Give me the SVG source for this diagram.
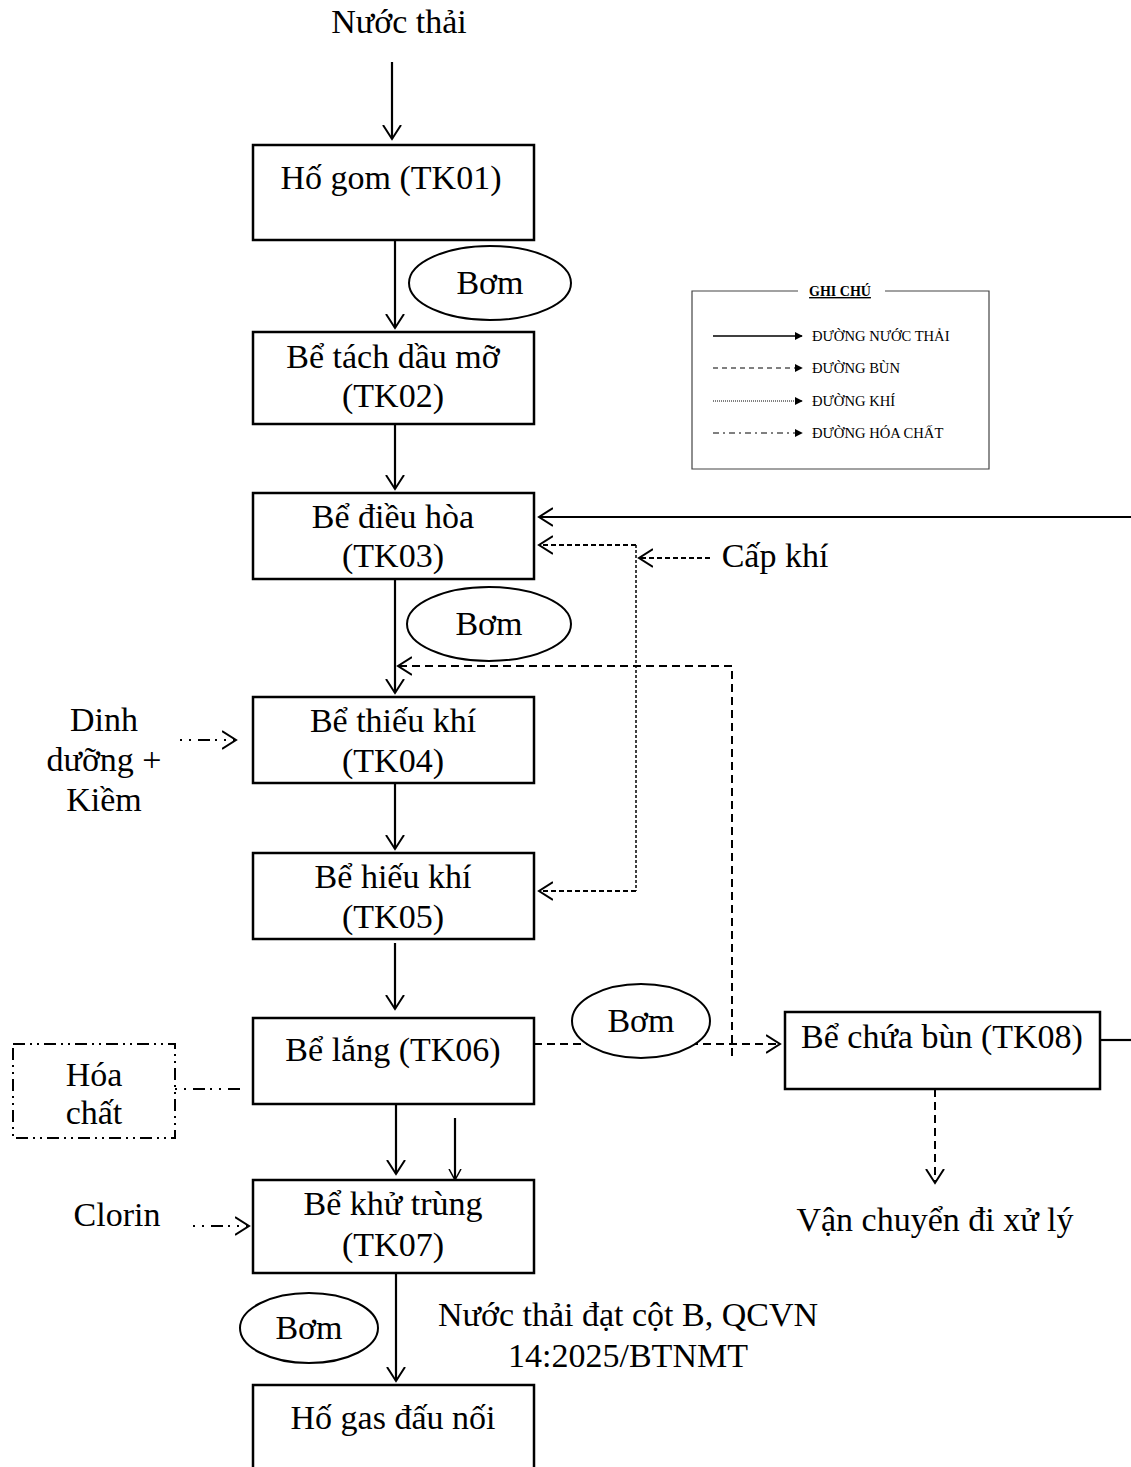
<svg xmlns="http://www.w3.org/2000/svg" width="1131" height="1467" viewBox="0 0 1131 1467">
<style>
text{font-family:"Liberation Serif","Times New Roman",serif;fill:#000}
.t{font-size:34px;text-anchor:middle}
.box{fill:#fff;stroke:#000;stroke-width:2.5}
.ell{fill:#fff;stroke:#000;stroke-width:2}
.w{fill:none;stroke:#000;stroke-width:2.2}
.sl{fill:none;stroke:#000;stroke-width:2;stroke-dasharray:8 5}
.air{fill:none;stroke:#000;stroke-width:2;stroke-dasharray:5 3}
.airv{fill:none;stroke:#000;stroke-width:1.5;stroke-dasharray:3 2}
.ch{fill:none;stroke:#000;stroke-width:2;stroke-dasharray:2 7 2 7 12 5}
.lg{font-size:14.6px}
</style>
<defs>
<marker id="oa" viewBox="0 0 16 20" refX="14" refY="10" markerWidth="16" markerHeight="20" markerUnits="userSpaceOnUse" orient="auto">
<path d="M0,1 L14,10 L0,19" fill="none" stroke="#000" stroke-width="2"/>
</marker>
<marker id="sa" viewBox="0 0 12 14" refX="11" refY="7" markerWidth="12" markerHeight="14" markerUnits="userSpaceOnUse" orient="auto">
<path d="M0,1 L11,7 L0,13" fill="none" stroke="#000" stroke-width="1.5"/>
</marker>
<marker id="fa" viewBox="0 0 10 10" refX="9" refY="5" markerWidth="8" markerHeight="8" markerUnits="userSpaceOnUse" orient="auto">
<path d="M0,0 L10,5 L0,10 Z" fill="#000"/>
</marker>
</defs>

<g id="connectors">
<line class="w" x1="392" y1="62" x2="392" y2="139" marker-end="url(#oa)"/>
<line class="w" x1="395" y1="240" x2="395" y2="328" marker-end="url(#oa)"/>
<line class="w" x1="395" y1="424" x2="395" y2="489" marker-end="url(#oa)"/>
<line class="w" x1="395" y1="579" x2="395" y2="693" marker-end="url(#oa)"/>
<line class="w" x1="395" y1="783" x2="395" y2="849" marker-end="url(#oa)"/>
<line class="w" x1="395" y1="943" x2="395" y2="1009" marker-end="url(#oa)"/>
<line class="w" x1="396" y1="1104" x2="396" y2="1174" marker-end="url(#oa)"/>
<line class="w" x1="455" y1="1118" x2="455" y2="1180" stroke-width="1.5" marker-end="url(#sa)"/>
<line class="w" x1="396" y1="1273" x2="396" y2="1381" marker-end="url(#oa)"/>
<polyline class="w" points="1100,1040 1131,1040" stroke-width="1.2"/>
<line class="w" x1="1131" y1="517" x2="539" y2="517" marker-end="url(#oa)"/>
<polyline class="sl" points="732,1056 732,666 398,666" marker-end="url(#oa)"/>
<line class="sl" x1="534" y1="1044" x2="780" y2="1044" marker-end="url(#oa)"/>
<line class="sl" x1="935" y1="1089" x2="935" y2="1183" marker-end="url(#oa)"/>
<line class="air" x1="710" y1="558" x2="639" y2="558" marker-end="url(#oa)"/>
<line class="airv" x1="636" y1="545" x2="636" y2="891"/>
<line class="air" x1="636" y1="545" x2="539" y2="545" marker-end="url(#oa)"/>
<line class="air" x1="636" y1="891" x2="539" y2="891" marker-end="url(#oa)"/>
<line class="ch" x1="180" y1="740" x2="236" y2="740" marker-end="url(#oa)"/>
<line class="ch" x1="193" y1="1226" x2="249" y2="1226" marker-end="url(#oa)"/>
<line class="ch" x1="175" y1="1089" x2="245" y2="1089" stroke-dasharray="12 6 2 6 2 6"/>
</g>

<text class="t" x="399" y="33">Nước thải</text>

<g id="tk01"><rect class="box" x="253" y="145" width="281" height="95"/><text class="t" x="391" y="189">Hố gom (TK01)</text></g>
<g id="bom1"><ellipse class="ell" cx="490" cy="283" rx="81" ry="37"/><text class="t" x="490" y="294">Bơm</text></g>
<g id="tk02"><rect class="box" x="253" y="332" width="281" height="92"/><text class="t" x="393" y="368">Bể tách dầu mỡ</text><text class="t" x="393" y="407">(TK02)</text></g>
<g id="tk03"><rect class="box" x="253" y="493" width="281" height="86"/><text class="t" x="393" y="528">Bể điều hòa</text><text class="t" x="393" y="567">(TK03)</text></g>
<g id="bom2"><ellipse class="ell" cx="489" cy="624" rx="82" ry="37"/><text class="t" x="489" y="635">Bơm</text></g>
<g id="capkhi"><text class="t" x="775" y="567">Cấp khí</text></g>
<g id="tk04"><rect class="box" x="253" y="697" width="281" height="86"/><text class="t" x="393" y="732">Bể thiếu khí</text><text class="t" x="393" y="772">(TK04)</text></g>
<g id="dinhduong"><text class="t" x="104" y="731">Dinh</text><text class="t" x="104" y="771">dưỡng +</text><text class="t" x="104" y="811">Kiềm</text></g>
<g id="tk05"><rect class="box" x="253" y="853" width="281" height="86"/><text class="t" x="393" y="888">Bể hiếu khí</text><text class="t" x="393" y="928">(TK05)</text></g>
<g id="tk06"><rect class="box" x="253" y="1018" width="281" height="86"/><text class="t" x="393" y="1061">Bể lắng (TK06)</text></g>
<g id="bom3"><ellipse class="ell" cx="641" cy="1021" rx="69" ry="37"/><text class="t" x="641" y="1032">Bơm</text></g>
<g id="tk08"><rect class="box" x="785" y="1012" width="315" height="77"/><text class="t" x="942" y="1048">Bể chứa bùn (TK08)</text></g>
<g id="hoachat"><rect x="13" y="1044" width="162" height="94" fill="#fff" stroke="#000" stroke-width="2" stroke-dasharray="12 5 2 5 2 5"/><text class="t" x="94" y="1086">Hóa</text><text class="t" x="94" y="1124">chất</text></g>
<g id="clorin"><text class="t" x="117" y="1226">Clorin</text></g>
<g id="tk07"><rect class="box" x="253" y="1180" width="281" height="93"/><text class="t" x="393" y="1215">Bể khử trùng</text><text class="t" x="393" y="1256">(TK07)</text></g>
<g id="vanchuyen"><text class="t" x="935" y="1231">Vận chuyển đi xử lý</text></g>
<g id="bom4"><ellipse class="ell" cx="309" cy="1328" rx="69" ry="35"/><text class="t" x="309" y="1339">Bơm</text></g>
<g id="qcvn"><text class="t" x="628" y="1326">Nước thải đạt cột B, QCVN</text><text class="t" x="628" y="1367">14:2025/BTNMT</text></g>
<g id="hogas"><rect class="box" x="253" y="1385" width="281" height="95"/><text class="t" x="393" y="1429">Hố gas đấu nối</text></g>

<g id="legend">
<polyline points="798,291 692,291 692,469 989,469 989,291 885,291" fill="none" stroke="#444" stroke-width="1.2"/>
<text x="840" y="296" font-size="14" font-weight="bold" text-anchor="middle" text-decoration="underline">GHI CHÚ</text>
<line x1="713" y1="336" x2="802" y2="336" stroke="#000" stroke-width="1.5" marker-end="url(#fa)"/>
<line x1="713" y1="368" x2="802" y2="368" stroke="#000" stroke-width="1" stroke-dasharray="5 4" marker-end="url(#fa)"/>
<line x1="713" y1="401" x2="802" y2="401" stroke="#000" stroke-width="1" stroke-dasharray="1 1" marker-end="url(#fa)"/>
<line x1="713" y1="433" x2="802" y2="433" stroke="#000" stroke-width="1" stroke-dasharray="6 4 2 4" marker-end="url(#fa)"/>
<text class="lg" x="812" y="341">ĐƯỜNG NƯỚC THẢI</text>
<text class="lg" x="812" y="373">ĐƯỜNG BÙN</text>
<text class="lg" x="812" y="406">ĐƯỜNG KHÍ</text>
<text class="lg" x="812" y="438">ĐƯỜNG HÓA CHẤT</text>
</g>
</svg>
